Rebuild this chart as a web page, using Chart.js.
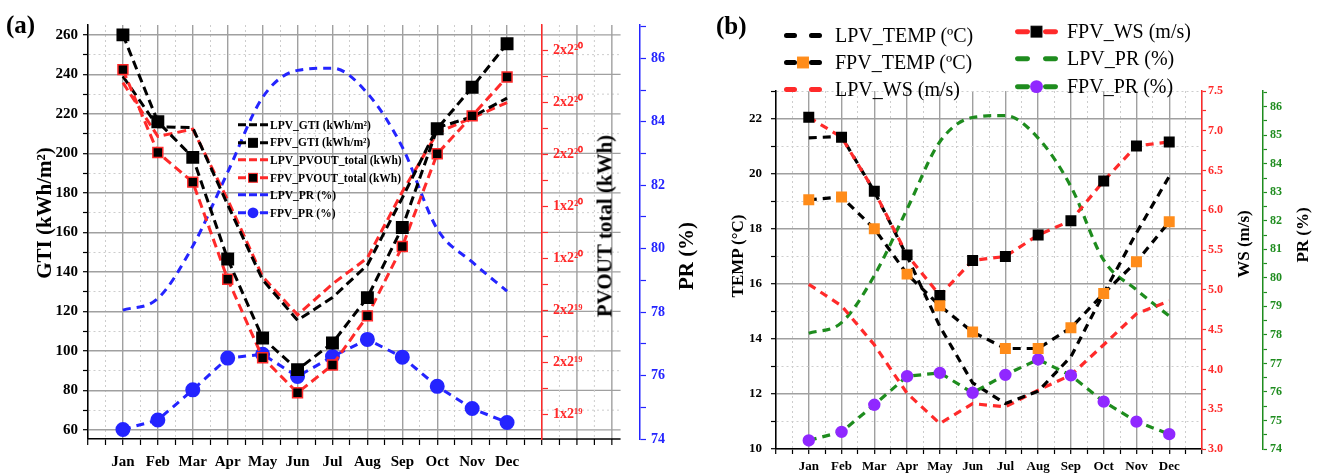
<!DOCTYPE html>
<html lang="en">
<head>
<meta charset="utf-8">
<title>LPV vs FPV monthly GTI, PVOUT, PR, temperature and wind speed</title>
<script src="https://cdn.jsdelivr.net/npm/chart.js@4.4.1/dist/chart.umd.min.js"></script>
<style>
  html, body { margin: 0; padding: 0; background: #fff; }
  #page { position: relative; width: 1320px; height: 475px; overflow: hidden;
          font-family: 'Liberation Serif', 'Times New Roman', serif; color: #000; }
  canvas { position: absolute; top: 0; }
  .tag { position: absolute; font-size: 25px; font-weight: bold; line-height: 1; }
  .ytitle { position: absolute; white-space: nowrap; font-weight: bold; line-height: 1;
            transform: translate(-50%, -50%) rotate(-90deg); }
  .legend { position: absolute; }
  .legend .row { display: flex; align-items: center; white-space: nowrap; }
  .legend svg { display: block; flex: none; }
</style>
</head>
<body>
<div id="page">
  <canvas id="chartA" width="700" height="475" style="left:0"></canvas>
  <canvas id="chartB" width="620" height="475" style="left:700px"></canvas>

  <div class="tag" style="left:6px;top:12px">(a)</div>
  <div class="tag" style="left:716px;top:13px">(b)</div>

  <div class="ytitle" style="left:44px;top:213px;font-size:21px">GTI (kWh/m²)</div>
  <div class="ytitle" style="left:605px;top:226px;font-size:21px">PVOUT total (kWh)</div>
  <div class="ytitle" style="left:686px;top:256px;font-size:21px">PR (%)</div>
  <div class="ytitle" style="left:737px;top:256px;font-size:17px">TEMP (°C)</div>
  <div class="ytitle" style="left:1243px;top:244px;font-size:17px">WS (m/s)</div>
  <div class="ytitle" style="left:1302px;top:235px;font-size:17px">PR (%)</div>

  <div id="legendA" class="legend" style="left:238px;top:116px;font-size:11.5px;font-weight:bold"></div>
  <div id="legendB1" class="legend" style="left:784px;top:22px;font-size:20px"></div>
  <div id="legendB2" class="legend" style="left:1015px;top:18px;font-size:20px"></div>
</div>

<script>
const months = ['Jan', 'Feb', 'Mar', 'Apr', 'May', 'Jun', 'Jul', 'Aug', 'Sep', 'Oct', 'Nov', 'Dec'];

// --- (a) irradiation, output and performance ratio ---
const lpvGti = [239, 213.5, 213, 174, 136, 115.5, 127, 143.5, 177.5, 213, 218.5, 228];
const fpvGti = [260, 216, 198, 146.5, 106.5, 90.5, 104, 127, 162.5, 212.5, 233.5, 255.5];
const lpvPvout = [1877000, 1670000, 1698000, 1426000, 1130000, 983000, 1102000, 1202000, 1457000, 1684000, 1742000, 1800000];
const fpvPvout = [1927000, 1608000, 1494000, 1120000, 818000, 683000, 790000, 979000, 1246000, 1603000, 1749000, 1899000];
const lpvPr = [78.06, 78.43, 80.08, 82.41, 84.77, 85.62, 85.69, 84.9, 83.2, 80.62, 79.58, 78.66];
const fpvPr = [74.3, 74.6, 75.55, 76.55, 76.67, 75.97, 76.6, 77.14, 76.58, 75.66, 74.96, 74.52];

// --- (b) temperature and wind speed ---
const lpvTemp = [21.3, 21.35, 19.35, 17.0, 14.45, 12.4, 11.65, 12.1, 13.35, 15.65, 17.85, 19.9];
const fpvTemp = [19.05, 19.15, 18.0, 16.35, 15.2, 14.25, 13.65, 13.65, 14.4, 15.65, 16.8, 18.25];
const lpvWs = [5.07, 4.8, 4.31, 3.7, 3.32, 3.57, 3.53, 3.74, 3.93, 4.31, 4.7, 4.86];
const fpvWs = [7.17, 6.92, 6.24, 5.44, 4.93, 5.37, 5.42, 5.69, 5.87, 6.37, 6.81, 6.86];

// --- tick labels ---
const gtiTicks = [60, 80, 100, 120, 140, 160, 180, 200, 220, 240, 260];
const pvoutTicks = [600000, 800000, 1000000, 1200000, 1400000, 1600000, 1800000, 2000000];
const pvoutTickLabels = ['1x2¹⁹', '2x2¹⁹', '2x2¹⁹', '1x2²⁰', '1x2²⁰', '2x2²⁰', '2x2²⁰', '2x2²⁰'];
const prTicksA = [74, 76, 78, 80, 82, 84, 86];
const tempTicks = [10, 12, 14, 16, 18, 20, 22];
const wsTicks = [3.0, 3.5, 4.0, 4.5, 5.0, 5.5, 6.0, 6.5, 7.0, 7.5];
const prTicksB = [74, 75, 76, 77, 78, 79, 80, 81, 82, 83, 84, 85, 86];

const RED = '#ff2a2a';
const BLUE = '#2424ff';
const GREEN = '#1e8c1e';
const ORANGE = '#ff8c1a';
const PURPLE = '#9028ff';
const GRID_MAJOR = '#a0a0a0';
const GRID_MINOR = '#cdcdcd';

Chart.defaults.font.family = "'Liberation Serif', 'Times New Roman', serif";
Chart.defaults.font.weight = 'bold';
Chart.defaults.color = '#000';

const onStep = (v, step) => Math.abs(v / step - Math.round(v / step)) < 1e-6;
const pts = arr => arr.map((v, i) => ({ x: i, y: v }));

// major ticks plus one minor tick half-way between each pair (and optionally one past the end)
function withMinor(major, extra) {
  const step = major[1] - major[0];
  const out = [];
  major.forEach(v => { out.push(v); out.push(Math.round((v + step / 2) * 1000) / 1000); });
  out.pop();
  if (extra) out.push(Math.round((major[major.length - 1] + step / 2) * 1000) / 1000);
  return out;
}
const useTicks = values => scale => { scale.ticks = values.map(v => ({ value: v })); };

// month axis runs from one step before Jan to one step after Dec, with half-month minor ticks
const xValues = [];
for (let i = -2; i <= 24; i++) xValues.push(i / 2);

const gridColor = step => c => (c.tick && onStep(c.tick.value, step)) ? GRID_MAJOR : GRID_MINOR;
const gridWidth = step => c => (c.tick && onStep(c.tick.value, step)) ? 1.4 : 1;
const gridDash = step => c => (c.tick && !onStep(c.tick.value, step)) ? [2, 3] : [];

function monthAxis(fontSize, tickLength, padding, height) {
  return {
    type: 'linear', min: -1, max: 12,
    afterBuildTicks: useTicks(xValues),
    afterFit: s => { s.height = height; },
    ticks: {
      autoSkip: false, maxRotation: 0, padding: padding, font: { size: fontSize },
      callback: v => (Number.isInteger(v) && v >= 0 && v < months.length) ? months[v] : ''
    },
    grid: { color: gridColor(1), lineWidth: gridWidth(1), tickLength: tickLength, tickColor: '#000', tickWidth: 1.2 },
    border: { color: '#000', width: 1.5, dash: gridDash(1) }
  };
}

function sideAxis(o) {
  return {
    position: o.position, weight: o.weight || 0, min: o.min, max: o.max,
    afterBuildTicks: useTicks(o.ticks),
    afterFit: s => { s.width = o.width; },
    ticks: { autoSkip: false, color: o.color, padding: o.padding, font: { size: o.fontSize }, callback: o.label },
    grid: o.grid
      ? { color: gridColor(o.gridStep), lineWidth: gridWidth(o.gridStep), tickLength: o.tickLength, tickColor: o.color, tickWidth: 1.2 }
      : { drawOnChartArea: false, tickLength: o.tickLength, tickColor: o.color, tickWidth: 1.2 },
    border: o.grid ? { color: o.color, width: 1.5, dash: gridDash(o.gridStep) } : { color: o.color, width: 1.5 }
  };
}

function gridLine(ctx, x1, y1, x2, y2, major) {
  ctx.strokeStyle = major ? GRID_MAJOR : GRID_MINOR;
  ctx.lineWidth = major ? 1.4 : 1;
  ctx.setLineDash(major ? [] : [2, 3]);
  ctx.beginPath();
  ctx.moveTo(x1, y1);
  ctx.lineTo(x2, y2);
  ctx.stroke();
}

// panel (a) keeps its grid running on past the PVOUT axis
const extendGrid = {
  id: 'extendGrid',
  beforeDraw(chart, args, opts) {
    const { ctx, chartArea } = chart;
    const x = chart.scales.x;
    const y = chart.scales[opts.yAxis];
    const end = x.getPixelForValue(opts.to);
    ctx.save();
    y.ticks.forEach(t => {
      const py = y.getPixelForValue(t.value);
      gridLine(ctx, chartArea.right, py, end, py, onStep(t.value, opts.yStep));
    });
    opts.xValues.forEach(v => {
      const px = x.getPixelForValue(v);
      gridLine(ctx, px, chartArea.top, px, chartArea.bottom, onStep(v, 1));
      ctx.setLineDash([]);
      ctx.strokeStyle = '#000';
      ctx.lineWidth = 1.2;
      ctx.beginPath();
      ctx.moveTo(px, chartArea.bottom);
      ctx.lineTo(px, chartArea.bottom + opts.tickLength);
      ctx.stroke();
    });
    ctx.setLineDash([]);
    ctx.strokeStyle = '#000';
    ctx.lineWidth = 1.5;
    ctx.beginPath();
    ctx.moveTo(chartArea.right, chartArea.bottom);
    ctx.lineTo(end, chartArea.bottom);
    ctx.stroke();
    ctx.restore();
  }
};

const line = (label, data, axis, color, extra) => Object.assign({
  label: label, data: pts(data), yAxisID: axis, borderColor: color, backgroundColor: color,
  borderWidth: 3, borderDash: [9, 5], pointRadius: 0, pointHoverRadius: 0, fill: false, order: 1
}, extra || {});

// ---------- panel (a) ----------
const chartA = new Chart(document.getElementById('chartA'), {
  type: 'line',
  data: {
    datasets: [
      line('LPV_GTI (kWh/m²)', lpvGti, 'yGti', '#000'),
      line('FPV_GTI (kWh/m²)', fpvGti, 'yGti', '#000', {
        pointStyle: 'rect', pointRadius: 7, pointBackgroundColor: '#000', pointBorderColor: '#000', order: 0 }),
      line('LPV_PVOUT_total (kWh)', lpvPvout, 'yPv', RED),
      line('FPV_PVOUT_total (kWh)', fpvPvout, 'yPv', RED, {
        pointStyle: 'rect', pointRadius: 7, pointBackgroundColor: '#000', pointBorderColor: RED, pointBorderWidth: 1.5, order: 0 }),
      line('LPV_PR (%)', lpvPr, 'yPr', BLUE, { borderDash: [8, 6], cubicInterpolationMode: 'monotone' }),
      line('FPV_PR (%)', fpvPr, 'yPr', BLUE, {
        borderDash: [8, 6], pointStyle: 'circle', pointRadius: 6, pointBackgroundColor: BLUE, pointBorderColor: BLUE, order: 0 })
    ]
  },
  options: {
    responsive: false,
    animation: false,
    layout: { padding: { top: 25, left: 0, right: 0, bottom: 0 } },
    plugins: {
      legend: { display: false },
      tooltip: { enabled: false },
      extendGrid: { yAxis: 'yGti', yStep: 20, to: 14.25, xValues: [12.5, 13, 13.5, 14], tickLength: 6 }
    },
    scales: {
      x: monthAxis(15, 6, 8, 36),
      yGti: sideAxis({
        position: 'left', min: 55.4, max: 265, width: 88, ticks: withMinor(gtiTicks), color: '#000',
        padding: 5, tickLength: 5, fontSize: 15, grid: true, gridStep: 20,
        label: v => onStep(v, 20) ? v : ''
      }),
      yPv: sideAxis({
        position: 'right', weight: 0, min: 505000, max: 2099000, width: 98, ticks: withMinor(pvoutTicks), color: RED,
        padding: 5, tickLength: 6, fontSize: 14,
        label: v => { const i = pvoutTicks.indexOf(v); return i >= 0 ? pvoutTickLabels[i] : ''; }
      }),
      yPr: sideAxis({
        position: 'right', weight: 1, min: 74, max: 87.05, width: 60, ticks: withMinor(prTicksA, true), color: BLUE,
        padding: 5, tickLength: 6, fontSize: 14,
        label: v => onStep(v, 2) ? v : ''
      })
    }
  },
  plugins: [extendGrid]
});

// ---------- panel (b) ----------
const dashB = { borderWidth: 3.2, borderDash: [8, 6] };
const chartB = new Chart(document.getElementById('chartB'), {
  type: 'line',
  data: {
    datasets: [
      line('LPV_TEMP (ºC)', lpvTemp, 'yT', '#000', dashB),
      line('FPV_TEMP (ºC)', fpvTemp, 'yT', '#000', Object.assign({
        pointStyle: 'rect', pointRadius: 5.5, pointBackgroundColor: ORANGE, pointBorderColor: ORANGE, order: 0 }, dashB)),
      line('LPV_WS (m/s)', lpvWs, 'yW', RED, dashB),
      line('FPV_WS (m/s)', fpvWs, 'yW', RED, Object.assign({
        pointStyle: 'rect', pointRadius: 5.5, pointBackgroundColor: '#000', pointBorderColor: '#000', order: 0 }, dashB)),
      line('LPV_PR (%)', lpvPr, 'yP', GREEN, Object.assign({ cubicInterpolationMode: 'monotone' }, dashB)),
      line('FPV_PR (%)', fpvPr, 'yP', GREEN, Object.assign({
        pointStyle: 'circle', pointRadius: 4.6, pointBackgroundColor: PURPLE, pointBorderColor: PURPLE, order: 0 }, dashB))
    ]
  },
  options: {
    responsive: false,
    animation: false,
    layout: { padding: { top: 91, left: 0, right: 0, bottom: 0 } },
    plugins: { legend: { display: false }, tooltip: { enabled: false } },
    scales: {
      x: monthAxis(13, 5, 5, 26),
      yT: sideAxis({
        position: 'left', min: 10, max: 23, width: 76, ticks: withMinor(tempTicks, true), color: '#000',
        padding: 9, tickLength: 5, fontSize: 13, grid: true, gridStep: 2,
        label: v => onStep(v, 2) ? v : ''
      }),
      yW: sideAxis({
        position: 'right', weight: 0, min: 3, max: 7.5, width: 61, ticks: withMinor(wsTicks), color: RED,
        padding: 2, tickLength: 4, fontSize: 12,
        label: v => onStep(v, 0.5) ? v.toFixed(1) : ''
      }),
      yP: sideAxis({
        position: 'right', weight: 1, min: 74, max: 86.55, width: 57, ticks: withMinor(prTicksB, true), color: GREEN,
        padding: 3, tickLength: 4, fontSize: 12,
        label: v => Number.isInteger(v) ? v : ''
      })
    }
  }
});

// ---------- HTML legends built from the datasets ----------
function sample(ds, o) {
  const w = o.w, h = o.rowH, y = h / 2, lw = o.lw;
  let svg = `<svg width="${w}" height="${h}" viewBox="0 0 ${w} ${h}">` +
    `<line x1="${o.cap === 'round' ? lw / 2 : 0}" y1="${y}" x2="${o.cap === 'round' ? w - lw / 2 : w}" y2="${y}" ` +
    `stroke="${ds.borderColor}" stroke-width="${lw}" stroke-dasharray="${o.dash}" stroke-linecap="${o.cap}"/>`;
  if (ds.pointRadius) {
    if (ds.pointStyle === 'rect') {
      const s = ds.pointRadius * Math.SQRT2 * o.mark;
      svg += `<rect x="${w / 2 - s / 2}" y="${y - s / 2}" width="${s}" height="${s}" fill="${ds.pointBackgroundColor}" ` +
        `stroke="${ds.pointBorderColor}" stroke-width="1"/>`;
    } else {
      svg += `<circle cx="${w / 2}" cy="${y}" r="${ds.pointRadius * o.mark}" fill="${ds.pointBackgroundColor}"/>`;
    }
  }
  return svg + '</svg>';
}

function buildLegend(el, datasets, o) {
  el.innerHTML = datasets.map(ds =>
    `<div class="row" style="height:${o.rowH}px">${sample(ds, o)}<span style="margin-left:${o.gap}px">${ds.label}</span></div>`
  ).join('');
}

const dsA = chartA.data.datasets;
const dsB = chartB.data.datasets;
buildLegend(document.getElementById('legendA'), dsA,
  { w: 30, rowH: 17.6, lw: 3, dash: '8 3', cap: 'butt', gap: 2, mark: 0.9 });
buildLegend(document.getElementById('legendB1'), dsB.slice(0, 3),
  { w: 38, rowH: 27, lw: 5, dash: '8 17', cap: 'round', gap: 13, mark: 1.4 });
buildLegend(document.getElementById('legendB2'), dsB.slice(3),
  { w: 43, rowH: 27.3, lw: 5, dash: '10 18', cap: 'round', gap: 9, mark: 1.4 });
</script>
</body>
</html>
